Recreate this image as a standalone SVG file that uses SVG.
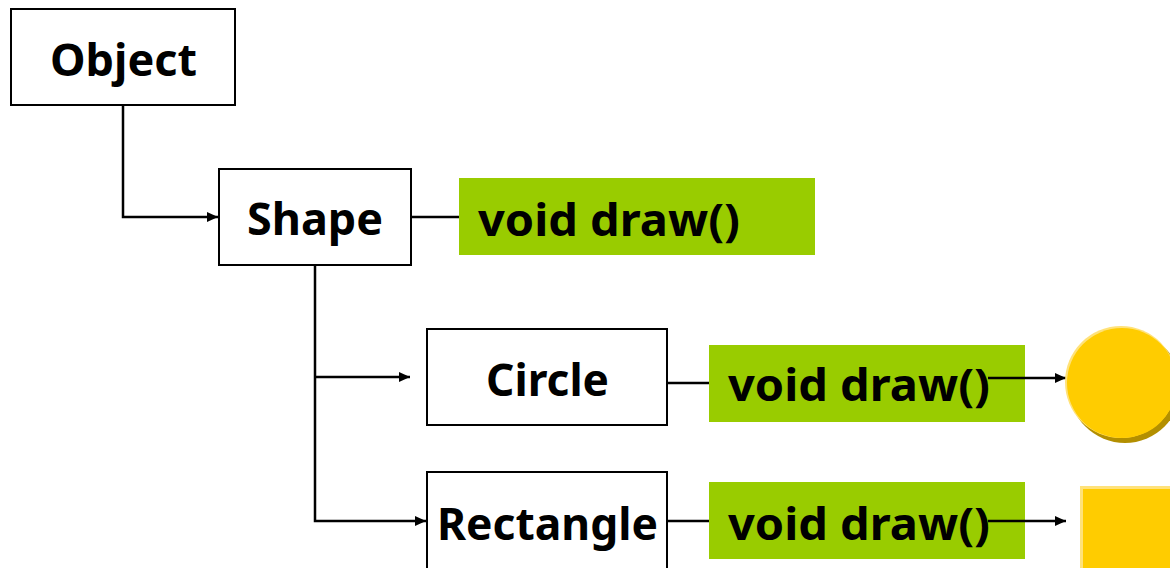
<svg xmlns="http://www.w3.org/2000/svg" width="1170" height="568" viewBox="0 0 1170 568">
  <defs>
    <marker id="arr" markerUnits="userSpaceOnUse" markerWidth="12" markerHeight="10" refX="11" refY="5" orient="auto">
      <path d="M0,0 L11,5 L0,10 Z" fill="#000"/>
    </marker>
  </defs>
  <style>
    .box { fill: #fff; stroke: #000; stroke-width: 2; }
    .green { fill: #99CC00; }
    .lbl { font-family: "Noto Sans", "Open Sans", "DejaVu Sans", sans-serif; font-weight: bold; font-size: 44px; fill: #000; }
    .ln { fill: none; stroke: #000; stroke-width: 2.5; }
  </style>
  <rect width="1170" height="568" fill="#fff"/>

  <g id="connectors">
    <path class="ln" d="M123,105 V217 H218" marker-end="url(#arr)"/>
    <path class="ln" d="M411,217 H459"/>
    <path class="ln" d="M315,265 V521 H426" marker-end="url(#arr)"/>
    <path class="ln" d="M315,377 H410" marker-end="url(#arr)"/>
    <path class="ln" d="M667,383 H709"/>
    <path class="ln" d="M667,521 H709"/>
  </g>

  <g id="object">
    <rect class="box" x="11" y="9" width="224" height="96"/>
    <text class="lbl" x="50" y="76" textLength="147" lengthAdjust="spacingAndGlyphs">Object</text>
  </g>

  <g id="shape">
    <rect class="box" x="219" y="169" width="192" height="96"/>
    <text class="lbl" x="247" y="235" textLength="136" lengthAdjust="spacingAndGlyphs">Shape</text>
  </g>

  <g id="shape-draw">
    <rect class="green" x="459" y="178" width="356" height="77"/>
    <text class="lbl" x="478" y="236" textLength="262" lengthAdjust="spacingAndGlyphs">void draw()</text>
  </g>

  <g id="circle">
    <rect class="box" x="427" y="329" width="240" height="96"/>
    <text class="lbl" x="486" y="396" textLength="123" lengthAdjust="spacingAndGlyphs">Circle</text>
  </g>

  <g id="circle-draw">
    <rect class="green" x="709" y="345" width="316" height="77"/>
    <text class="lbl" x="728" y="401" textLength="262" lengthAdjust="spacingAndGlyphs">void draw()</text>
  </g>

  <g id="rectangle">
    <rect class="box" x="427" y="472" width="240" height="110"/>
    <text class="lbl" x="437" y="540" textLength="221" lengthAdjust="spacingAndGlyphs">Rectangle</text>
  </g>

  <g id="rectangle-draw">
    <rect class="green" x="709" y="482" width="316" height="77"/>
    <text class="lbl" x="728" y="540" textLength="262" lengthAdjust="spacingAndGlyphs">void draw()</text>
  </g>

  <g id="connectors-out">
    <path class="ln" d="M988,378 H1066" marker-end="url(#arr)"/>
    <path class="ln" d="M988,521 H1066" marker-end="url(#arr)"/>
  </g>

  <g id="yellow-circle">
    <circle cx="1125" cy="387" r="56" fill="#B38F00"/>
    <circle cx="1121" cy="382" r="56" fill="#FFE27A"/>
    <circle cx="1122" cy="383" r="55" fill="#FFCC00"/>
  </g>

  <g id="yellow-square">
    <rect x="1080" y="486" width="95" height="90" fill="#FFE27A"/>
    <rect x="1083" y="489" width="92" height="87" fill="#FFCC00"/>
  </g>
</svg>
